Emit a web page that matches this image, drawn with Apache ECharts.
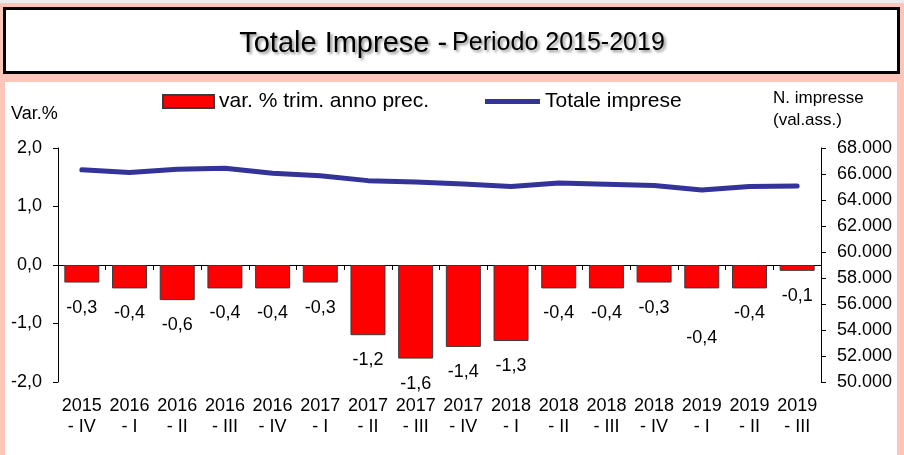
<!DOCTYPE html>
<html>
<head>
<meta charset="utf-8">
<title>Totale Imprese</title>
<script src="https://cdn.jsdelivr.net/npm/echarts@6/dist/echarts.min.js"></script>
<style>
  html, body { margin: 0; padding: 0; background: #fec5bb; }
  #chart { width: 904px; height: 455px; }
</style>
</head>
<body>
<div id="chart"></div>
<script>
// dati
var categories = ['2015\n- IV', '2016\n- I', '2016\n- II', '2016\n- III', '2016\n- IV',
  '2017\n- I', '2017\n- II', '2017\n- III', '2017\n- IV', '2018\n- I', '2018\n- II',
  '2018\n- III', '2018\n- IV', '2019\n- I', '2019\n- II', '2019\n- III'];
var varTrim = [-0.3, -0.4, -0.6, -0.4, -0.4, -0.3, -1.2, -1.6, -1.4, -1.3, -0.4, -0.4, -0.3, -0.4, -0.4, -0.1];
var totaleImprese = [66320, 66110, 66370, 66450, 66060, 65860, 65490, 65390, 65240, 65030,
  65310, 65210, 65110, 64770, 65030, 65080];

var FONT = '"Liberation Sans", Arial, sans-serif';

function fmtPct(v) {
  return v.toFixed(1).replace('.', ',');
}
function fmtThousands(v) {
  return String(v).replace(/\B(?=(\d{3})+(?!\d))/g, '.');
}

var chart = echarts.init(document.getElementById('chart'));

// etichetta del 2019 - I spostata più in basso come nell'originale
var barData = varTrim.map(function (v, i) {
  if (i === 13) {
    return { value: v, label: { offset: [0, 25] } };
  }
  return v;
});

var shadow = {
  textShadowColor: 'rgba(0,0,0,0.45)', textShadowBlur: 3, textShadowOffsetX: 2, textShadowOffsetY: 2
};

var option = {
  animation: false,
  backgroundColor: '#fec5bb',
  textStyle: { fontFamily: FONT, color: '#000' },
  graphic: [
    { type: 'rect', z: -10, shape: { x: 0, y: 0, width: 904, height: 3 }, style: { fill: '#ebebf0' } },
    { type: 'rect', z: -10, shape: { x: 4.5, y: 8.5, width: 894, height: 64 },
      style: { fill: '#fff', stroke: '#000', lineWidth: 3 } },
    { type: 'rect', z: -10, shape: { x: 5, y: 82, width: 892, height: 380 }, style: { fill: '#fff' } },
    { type: 'text', left: 11, top: 105,
      style: { text: 'Var.%', font: '18px ' + FONT, fill: '#000' } },
    { type: 'text', left: 773, top: 87,
      style: { text: 'N. impresse\n(val.ass.)', font: '17px ' + FONT, fill: '#000', lineHeight: 22 } }
  ],
  title: {
    left: 'center',
    top: 24,
    text: '{a|Totale Imprese -} {b|Periodo 2015-2019}',
    textStyle: {
      fontWeight: 'normal',
      rich: {
        a: Object.assign({ fontFamily: FONT, fontSize: 29, fontWeight: 'normal', color: '#000' }, shadow),
        b: Object.assign({ fontFamily: FONT, fontSize: 25, fontWeight: 'normal', color: '#000' }, shadow)
      }
    }
  },
  legend: [
    {
      left: 157, top: 86,
      icon: 'rect',
      itemWidth: 51, itemHeight: 13, itemGap: 5,
      data: ['var. % trim. anno prec.'],
      textStyle: { fontFamily: FONT, fontSize: 21, color: '#000' }
    },
    {
      left: 480, top: 86,
      icon: 'rect',
      itemWidth: 55, itemHeight: 5,
      data: ['Totale imprese'],
      textStyle: { fontFamily: FONT, fontSize: 21, color: '#000' }
    }
  ],
  grid: { left: 58, right: 83, top: 148, bottom: 73 },
  xAxis: [
    {
      type: 'category',
      position: 'top',
      data: categories,
      axisLine: { onZero: true, lineStyle: { color: '#000', width: 1 } },
      axisTick: { show: true, inside: true, length: 5, lineStyle: { color: '#000' } },
      axisLabel: { show: false },
      splitLine: { show: false }
    },
    {
      type: 'category',
      position: 'bottom',
      data: categories,
      axisLine: { show: false, onZero: false },
      axisTick: { show: false },
      axisLabel: { fontFamily: FONT, fontSize: 18, color: '#000', margin: 14, lineHeight: 21, interval: 0 },
      splitLine: { show: false }
    }
  ],
  yAxis: [
    {
      type: 'value',
      position: 'left',
      min: -2, max: 2, interval: 1,
      axisLine: { show: true, lineStyle: { color: '#000' } },
      axisTick: { show: true, length: 5, lineStyle: { color: '#000' } },
      axisLabel: { fontFamily: FONT, fontSize: 18, color: '#000', margin: 16, formatter: fmtPct },
      splitLine: { show: false }
    },
    {
      type: 'value',
      position: 'right',
      min: 50000, max: 68000, interval: 2000,
      axisLine: { show: true, lineStyle: { color: '#000' } },
      axisTick: { show: true, length: 5, lineStyle: { color: '#000' } },
      axisLabel: { fontFamily: FONT, fontSize: 18, color: '#000', margin: 16, formatter: fmtThousands },
      splitLine: { show: false }
    }
  ],
  series: [
    {
      name: 'var. % trim. anno prec.',
      type: 'bar',
      xAxisIndex: 0,
      yAxisIndex: 0,
      barWidth: 35,
      itemStyle: { color: '#ff0000', borderColor: '#3a3a3a', borderWidth: 1 },
      label: {
        show: true,
        position: 'bottom',
        distance: 16,
        fontFamily: FONT,
        fontSize: 18,
        color: '#000',
        formatter: function (p) { return fmtPct(p.value); }
      },
      data: barData
    },
    {
      name: 'Totale imprese',
      type: 'line',
      xAxisIndex: 0,
      yAxisIndex: 1,
      symbol: 'none',
      itemStyle: { color: '#333399' },
      lineStyle: { color: '#333399', width: 5, cap: 'round', join: 'round' },
      data: totaleImprese
    }
  ]
};

chart.setOption(option);
</script>
</body>
</html>
